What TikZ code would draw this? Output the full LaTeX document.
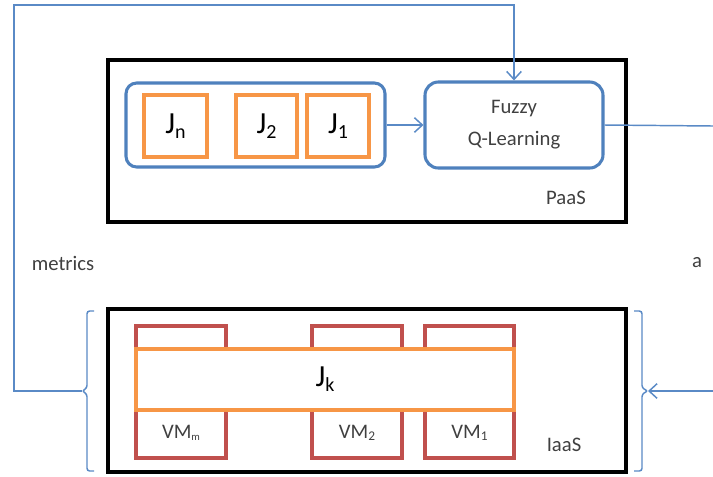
\documentclass[tikz,border=0pt]{standalone}
\usepackage{fontspec}
\setmainfont{Carlito}
\usetikzlibrary{arrows.meta}
\definecolor{bl}{HTML}{4F81BD}
\definecolor{cbl}{HTML}{5A8AC6}
\definecolor{orng}{HTML}{F79646}
\definecolor{rd}{HTML}{C0504D}
\definecolor{txt}{HTML}{404040}
\newcommand{\Jlab}[1]{\fontsize{23}{26}\selectfont J\raisebox{-3.8pt}{\fontsize{15}{15}\selectfont #1}}
\newcommand{\VMlab}[2]{\fontsize{15.5}{18}\selectfont VM\raisebox{-1.5pt}{\fontsize{#2}{#2}\selectfont #1}}
\begin{document}
\begin{tikzpicture}[x=0.75pt,y=-0.75pt,
  wh/.style 2 args={minimum width=#1*0.75pt, minimum height=#2*0.75pt, inner sep=0pt},
  layer/.style={draw=black, line width=2.4pt, rectangle},
  rbox/.style={draw=bl, line width=2.3pt, rounded corners=8pt, fill=white},
  jbox/.style={draw=orng, line width=2.3pt, fill=white, text=black},
  vmbox/.style={draw=rd, line width=2.3pt, fill=white},
  lab/.style={text=txt, font=\fontsize{15.5}{18}\selectfont, inner sep=0pt},
  conn/.style={draw=cbl, line width=1.1pt},
  arr/.style={conn, -{Straight Barb[length=6pt, width=11pt, line width=1.1pt]}}
]
\useasboundingbox (0,0) rectangle (713,476);
\fill[white] (0,0) rectangle (713,476);

% PaaS layer
\node[layer, wh={518}{162}] (paas) at (367,141) {};
\node[rbox, wh={259}{84}] (queue) at (255.5,125) {};
\node[jbox, wh={63}{62}] (jn) at (175.5,126) {\Jlab{n}};
\node[jbox, wh={61}{62}] (j2) at (266.5,126) {\Jlab{2}};
\node[jbox, wh={62}{62}] (j1) at (338,126) {\Jlab{1}};
\node[rbox, wh={178}{86}, rounded corners=10pt, text=txt, align=center,
      font=\fontsize{15.5}{24}\selectfont] (fql) at (514,125) {Fuzzy\\Q-Learning};
\node[lab] (paaslab) at (566,198) {PaaS};

% IaaS layer
\node[layer, wh={518}{163}] (iaas) at (367,390.5) {};
\node[vmbox, wh={90}{132}] (vmm) at (181,392) {};
\node[vmbox, wh={90}{132}] (vm2) at (357,392) {};
\node[vmbox, wh={89}{132}] (vm1) at (469.5,392) {};
\node[jbox, wh={378}{61}] (jk) at (325,379.5) {\Jlab{k}};
\node[lab] (vmmlab) at (181,433) {\VMlab{m}{8}};
\node[lab] (vm2lab) at (357,433) {\VMlab{2}{10}};
\node[lab] (vm1lab) at (469.5,433) {\VMlab{1}{10}};
\node[lab] (iaaslab) at (564,445) {IaaS};

% labels
\node[lab] (metrics) at (63,263) {metrics};
\node[lab] (alab) at (697,263) {a};

% braces
\coordinate (lb) at (82,391);
\coordinate (rb) at (648,391);
\draw[conn, rounded corners=2pt] (94,311) -- (87,311) -- (87,388) -- (lb) -- (87,394) -- (87,471) -- (94,471);
\draw[conn, rounded corners=2pt] (634,311) -- (642,311) -- (642,388) -- (rb) -- (642,394) -- (642,471) -- (634,471);

% connectors
\coordinate (tl) at (14,5);
\coordinate (outend) at (713,126);
\coordinate (inend) at (713,391);
\draw[arr] (lb) -- (14,391) -- (tl) -| (fql.north);
\draw[arr] (queue.east) -- (fql.west);
\draw[conn] (fql.east) -- (outend);
\draw[arr] (inend) -- (rb);
\end{tikzpicture}
\end{document}
